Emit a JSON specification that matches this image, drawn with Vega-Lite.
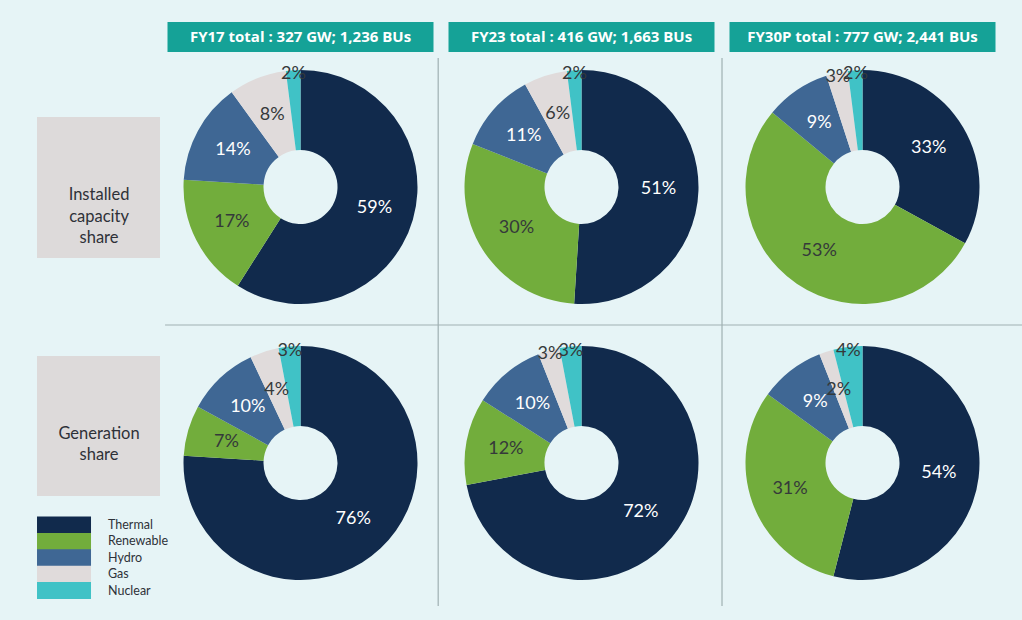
{
  "$schema": "https://vega.github.io/schema/vega-lite/v6.json",
  "width": 1022,
  "height": 620,
  "padding": 0,
  "autosize": {"type": "none"},
  "background": "#e6f4f6",
  "config": {"view": {"stroke": null}, "font": "Lato"},
  "datasets": {
    "shares": [
      {"period": "FY17", "metric": "Installed capacity share", "source": "Thermal", "share": 59},
      {"period": "FY17", "metric": "Installed capacity share", "source": "Renewable", "share": 17},
      {"period": "FY17", "metric": "Installed capacity share", "source": "Hydro", "share": 14},
      {"period": "FY17", "metric": "Installed capacity share", "source": "Gas", "share": 8},
      {"period": "FY17", "metric": "Installed capacity share", "source": "Nuclear", "share": 2},
      {"period": "FY23", "metric": "Installed capacity share", "source": "Thermal", "share": 51},
      {"period": "FY23", "metric": "Installed capacity share", "source": "Renewable", "share": 30},
      {"period": "FY23", "metric": "Installed capacity share", "source": "Hydro", "share": 11},
      {"period": "FY23", "metric": "Installed capacity share", "source": "Gas", "share": 6},
      {"period": "FY23", "metric": "Installed capacity share", "source": "Nuclear", "share": 2},
      {"period": "FY30P", "metric": "Installed capacity share", "source": "Thermal", "share": 33},
      {"period": "FY30P", "metric": "Installed capacity share", "source": "Renewable", "share": 53},
      {"period": "FY30P", "metric": "Installed capacity share", "source": "Hydro", "share": 9},
      {"period": "FY30P", "metric": "Installed capacity share", "source": "Gas", "share": 3},
      {"period": "FY30P", "metric": "Installed capacity share", "source": "Nuclear", "share": 2},
      {"period": "FY17", "metric": "Generation share", "source": "Thermal", "share": 76},
      {"period": "FY17", "metric": "Generation share", "source": "Renewable", "share": 7},
      {"period": "FY17", "metric": "Generation share", "source": "Hydro", "share": 10},
      {"period": "FY17", "metric": "Generation share", "source": "Gas", "share": 4},
      {"period": "FY17", "metric": "Generation share", "source": "Nuclear", "share": 3},
      {"period": "FY23", "metric": "Generation share", "source": "Thermal", "share": 72},
      {"period": "FY23", "metric": "Generation share", "source": "Renewable", "share": 12},
      {"period": "FY23", "metric": "Generation share", "source": "Hydro", "share": 10},
      {"period": "FY23", "metric": "Generation share", "source": "Gas", "share": 3},
      {"period": "FY23", "metric": "Generation share", "source": "Nuclear", "share": 3},
      {"period": "FY30P", "metric": "Generation share", "source": "Thermal", "share": 54},
      {"period": "FY30P", "metric": "Generation share", "source": "Renewable", "share": 31},
      {"period": "FY30P", "metric": "Generation share", "source": "Hydro", "share": 9},
      {"period": "FY30P", "metric": "Generation share", "source": "Gas", "share": 2},
      {"period": "FY30P", "metric": "Generation share", "source": "Nuclear", "share": 4}
    ],
    "sources": [
      {"source": "Thermal", "order": 0},
      {"source": "Renewable", "order": 1},
      {"source": "Hydro", "order": 2},
      {"source": "Gas", "order": 3},
      {"source": "Nuclear", "order": 4}
    ],
    "periods": [
      {"period": "FY17", "col": 1, "title": "FY17 total : 327 GW; 1,236 BUs"},
      {"period": "FY23", "col": 2, "title": "FY23 total : 416 GW; 1,663 BUs"},
      {"period": "FY30P", "col": 3, "title": "FY30P total : 777 GW; 2,441 BUs"}
    ],
    "metrics": [
      {"metric": "Installed capacity share", "row": 0, "label": "Installed\ncapacity\nshare"},
      {"metric": "Generation share", "row": 1, "label": "Generation\nshare"}
    ]
  },
  "resolve": {"scale": {"y": "independent"}},
  "layer": [
    {
      "layer": [
        {
          "data": {"values": [{}]},
          "mark": {"type": "rule", "color": "#9fb0b2", "strokeWidth": 1.2},
          "encoding": {
            "x": {"datum": 1.49, "type": "quantitative", "scale": {"domain": [-0.0694, 3.5676], "nice": false, "zero": false}, "axis": null},
            "y": {"datum": -0.467, "type": "quantitative", "scale": {"domain": [-0.6775, 1.5688], "nice": false, "zero": false, "reverse": true}, "axis": null},
            "y2": {"datum": 1.518}
          }
        },
        {
          "data": {"values": [{}]},
          "mark": {"type": "rule", "color": "#9fb0b2", "strokeWidth": 1.2},
          "encoding": {
            "x": {"datum": 2.5, "type": "quantitative"},
            "y": {"datum": -0.467, "type": "quantitative"},
            "y2": {"datum": 1.518}
          }
        },
        {
          "data": {"values": [{}]},
          "mark": {"type": "rule", "color": "#9fb0b2", "strokeWidth": 1.2},
          "encoding": {
            "x": {"datum": 0.518, "type": "quantitative"},
            "x2": {"datum": 3.5676},
            "y": {"datum": 0.5, "type": "quantitative"}
          }
        },
        {
          "data": {"name": "metrics"},
          "transform": [{"filter": "datum.row === 0"}],
          "layer": [
            {
              "mark": {"type": "point", "shape": "M-1,-1.1463H1V1.1463H-1Z", "size": 15129, "filled": true, "opacity": 1, "strokeWidth": 0, "color": "#dddada"},
              "encoding": {
                "x": {"datum": 0.2811, "type": "quantitative"},
                "y": {"datum": 0.002, "type": "quantitative"}
              }
            },
            {
              "mark": {"type": "text", "fontSize": 16.5, "color": "#2e3138", "align": "center", "baseline": "middle", "lineBreak": "\n", "lineHeight": 21.5},
              "encoding": {
                "x": {"datum": 0.2830, "type": "quantitative"},
                "y": {"datum": 0.0308, "type": "quantitative"},
                "text": {"field": "label"}
              }
            }
          ]
        },
        {
          "data": {"name": "metrics"},
          "transform": [{"filter": "datum.row === 1"}],
          "layer": [
            {
              "mark": {"type": "point", "shape": "M-1,-1.1382H1V1.1382H-1Z", "size": 15129, "filled": true, "opacity": 1, "strokeWidth": 0, "color": "#dddada"},
              "encoding": {
                "x": {"datum": 0.2811, "type": "quantitative"},
                "y": {"datum": 0.8659, "type": "quantitative"}
              }
            },
            {
              "mark": {"type": "text", "fontSize": 16.5, "color": "#2e3138", "align": "center", "baseline": "middle", "lineBreak": "\n", "lineHeight": 21.5},
              "encoding": {
                "x": {"datum": 0.2830, "type": "quantitative"},
                "y": {"datum": 0.8931, "type": "quantitative"},
                "text": {"field": "label"}
              }
            }
          ]
        },
        {
          "data": {"name": "periods"},
          "layer": [
            {
              "mark": {"type": "point", "shape": "M-1,-0.1136H1V0.1136H-1Z", "size": 70756, "filled": true, "opacity": 1, "strokeWidth": 0, "color": "#15a297"},
              "encoding": {
                "x": {"field": "col", "type": "quantitative"},
                "y": {"datum": -0.5435, "type": "quantitative"}
              }
            },
            {
              "mark": {"type": "text", "font": "Open Sans", "fontSize": 15, "fontWeight": "bold", "color": "white", "align": "center", "baseline": "middle"},
              "encoding": {
                "x": {"field": "col", "type": "quantitative"},
                "y": {"datum": -0.5435, "type": "quantitative"},
                "text": {"field": "title"}
              }
            }
          ]
        },
        {
          "data": {"name": "shares"},
          "transform": [
            {"lookup": "source", "from": {"data": {"name": "sources"}, "key": "source", "fields": ["order"]}},
            {"lookup": "period", "from": {"data": {"name": "periods"}, "key": "period", "fields": ["col"]}},
            {"lookup": "metric", "from": {"data": {"name": "metrics"}, "key": "metric", "fields": ["row"]}},
            {"stack": "share", "groupby": ["period", "metric"], "sort": [{"field": "order", "order": "ascending"}], "as": ["t0", "t1"]},
            {"calculate": "(datum.t0 + datum.t1) / 2", "as": "tm"},
            {"calculate": "datum.share + '%'", "as": "pct"}
          ],
          "layer": [
            {
              "mark": {"type": "arc", "outerRadius": 117, "innerRadius": 37},
              "encoding": {
                "x": {"field": "col", "type": "quantitative"},
                "y": {"field": "row", "type": "quantitative"},
                "theta": {"field": "t0", "type": "quantitative", "scale": {"domain": [0, 100]}},
                "theta2": {"field": "t1"},
                "color": {
                  "field": "source",
                  "type": "nominal",
                  "scale": {"domain": ["Thermal", "Renewable", "Hydro", "Gas", "Nuclear"], "range": ["#112a4c", "#72ad3c", "#3f6794", "#e0dbdb", "#40c2c6"]},
                  "legend": null
                }
              }
            },
            {
              "transform": [{"filter": "datum.source !== 'Nuclear' && !(datum.source === 'Gas' && datum.share === 3)"}],
              "mark": {"type": "text", "radius": 77, "fontSize": 18, "align": "center", "baseline": "middle"},
              "encoding": {
                "x": {"field": "col", "type": "quantitative"},
                "y": {"field": "row", "type": "quantitative"},
                "theta": {"field": "tm", "type": "quantitative"},
                "text": {"field": "pct"},
                "color": {"condition": {"test": "datum.source === 'Thermal' || datum.source === 'Hydro'", "value": "#ffffff"}, "value": "#35393a"}
              }
            },
            {
              "transform": [{"filter": "datum.source === 'Nuclear' || (datum.source === 'Gas' && datum.share === 3)"}],
              "mark": {"type": "text", "radius": 113, "fontSize": 18, "align": "center", "baseline": "middle", "color": "#35393a"},
              "encoding": {
                "x": {"field": "col", "type": "quantitative"},
                "y": {"field": "row", "type": "quantitative"},
                "theta": {"field": "tm", "type": "quantitative"},
                "text": {"field": "pct"}
              }
            }
          ]
        }
      ]
    },
    {
      "data": {"name": "sources"},
      "layer": [
        {
          "mark": {"type": "point", "shape": "M-1,-0.315H1V0.315H-1Z", "size": 2916, "filled": true, "opacity": 1, "strokeWidth": 0},
          "encoding": {
            "x": {"datum": 0.1584, "type": "quantitative"},
            "y": {"field": "order", "type": "quantitative", "scale": {"domain": [-32.01, 5.793], "nice": false, "zero": false, "reverse": true}, "axis": null},
            "color": {"field": "source", "type": "nominal", "legend": null}
          }
        },
        {
          "mark": {"type": "text", "fontSize": 12.5, "color": "#2e3138", "align": "left", "baseline": "middle"},
          "encoding": {
            "x": {"datum": 0.3149, "type": "quantitative"},
            "y": {"field": "order", "type": "quantitative"},
            "text": {"field": "source"}
          }
        }
      ]
    }
  ]
}
